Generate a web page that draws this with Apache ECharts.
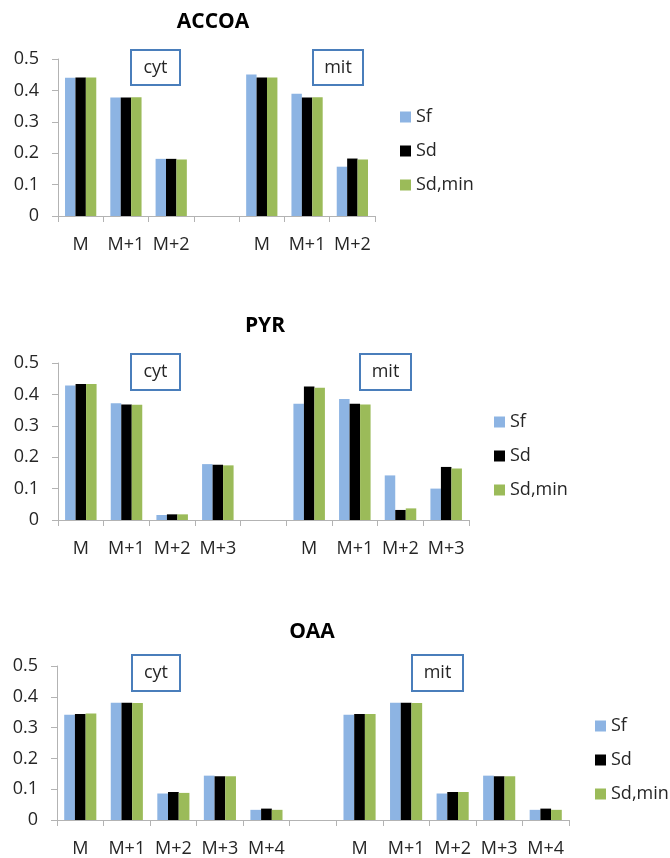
<!DOCTYPE html>
<html>
<head>
<meta charset="utf-8">
<script src="https://cdn.jsdelivr.net/npm/echarts@6/dist/echarts.min.js"></script>
<style>
  html, body { margin: 0; padding: 0; background: #fff; }
  #chart { width: 670px; height: 858px; }
</style>
</head>
<body>
<div id="chart"></div>
<script>
// ---- data ----
const seriesNames = ['Sf', 'Sd', 'Sd,min'];
const yTicks = [0, 0.1, 0.2, 0.3, 0.4, 0.5];

const accoaCats = ['M', 'M+1', 'M+2', '', 'M', 'M+1', 'M+2'];
const accoaSf    = [0.440, 0.377, 0.182, null, 0.451, 0.389, 0.157];
const accoaSd    = [0.441, 0.377, 0.182, null, 0.441, 0.377, 0.183];
const accoaSdMin = [0.441, 0.378, 0.180, null, 0.441, 0.378, 0.180];

const pyrCats = ['M', 'M+1', 'M+2', 'M+3', '', 'M', 'M+1', 'M+2', 'M+3'];
const pyrSf    = [0.428, 0.372, 0.016, 0.178, null, 0.370, 0.385, 0.142, 0.100];
const pyrSd    = [0.433, 0.368, 0.018, 0.176, null, 0.425, 0.370, 0.032, 0.169];
const pyrSdMin = [0.433, 0.367, 0.018, 0.174, null, 0.421, 0.368, 0.037, 0.164];

const oaaCats = ['M', 'M+1', 'M+2', 'M+3', 'M+4', '', 'M', 'M+1', 'M+2', 'M+3', 'M+4'];
const oaaSf    = [0.342, 0.381, 0.086, 0.144, 0.033, null, 0.342, 0.381, 0.086, 0.144, 0.033];
const oaaSd    = [0.344, 0.381, 0.091, 0.142, 0.037, null, 0.344, 0.381, 0.091, 0.142, 0.037];
const oaaSdMin = [0.346, 0.380, 0.088, 0.142, 0.033, null, 0.344, 0.380, 0.091, 0.142, 0.033];

const panelTitles = ['ACCOA', 'PYR', 'OAA'];
const compartments = ['cyt', 'mit'];

// ---- styles ----
const FONT = '"Open Sans", "Noto Sans", sans-serif';
const colors = ['#8db4e3', '#000000', '#9bbb59'];
const axisColor = '#b3b3b3';
const textColor = '#262626';
const boxColor = '#4a7ebb';

const panels = [
  { cats: accoaCats, data: [accoaSf, accoaSd, accoaSdMin], grid: { left: 58, top: 59, width: 317, height: 157 },
    title: { left: 213, top: 12 }, legend: { left: 400, top: 107 },
    boxes: [[130, 49, 49, 35], [312, 49, 50, 35]] },
  { cats: pyrCats, data: [pyrSf, pyrSd, pyrSdMin], grid: { left: 58, top: 363, width: 411, height: 157 },
    title: { left: 265, top: 316 }, legend: { left: 494, top: 412 },
    boxes: [[130, 353, 49, 36], [359, 353, 51, 36]] },
  { cats: oaaCats, data: [oaaSf, oaaSd, oaaSdMin], grid: { left: 57, top: 666, width: 512, height: 157 },
    title: { left: 312, top: 622 }, legend: { left: 595, top: 716 },
    boxes: [[131, 654, 48, 36], [411, 654, 51, 36]] }
];

const option = {
  backgroundColor: '#ffffff',
  animation: false,
  color: colors,
  title: [], legend: [], grid: [], xAxis: [], yAxis: [], series: [], graphic: []
};

panels.forEach((p, i) => {
  option.title.push({
    text: panelTitles[i], left: p.title.left, top: p.title.top, textAlign: 'center', padding: 0,
    textStyle: { fontFamily: FONT, fontSize: 21, fontWeight: 'bold', color: '#000' }
  });
  option.legend.push({
    data: seriesNames, orient: 'vertical', left: p.legend.left, top: p.legend.top, padding: 0,
    itemWidth: 11, itemHeight: 11, itemGap: 14, icon: 'rect',
    textStyle: { fontFamily: FONT, fontSize: 18, color: textColor, lineHeight: 20, padding: [0, 0, 0, 0] }
  });
  option.grid.push(Object.assign({ containLabel: false }, p.grid));
  option.xAxis.push({
    type: 'category', gridIndex: i, data: p.cats, boundaryGap: true,
    axisLine: { show: true, lineStyle: { color: axisColor, width: 1 } },
    axisTick: { show: true, length: 6, lineStyle: { color: axisColor } },
    axisLabel: { fontFamily: FONT, fontSize: 18, color: textColor, margin: 20, interval: 0 },
    splitLine: { show: false }
  });
  option.yAxis.push({
    type: 'value', gridIndex: i, min: yTicks[0], max: yTicks[yTicks.length - 1], interval: 0.1,
    axisLine: { show: true, lineStyle: { color: axisColor, width: 1 } },
    axisTick: { show: true, length: 6, inside: false, lineStyle: { color: axisColor } },
    axisLabel: { fontFamily: FONT, fontSize: 18, color: textColor, margin: 19 },
    splitLine: { show: false }
  });
  seriesNames.forEach((name, k) => {
    option.series.push({
      name: name, type: 'bar', xAxisIndex: i, yAxisIndex: i, data: p.data[k],
      barGap: '0%', barCategoryGap: '31%',
      itemStyle: { color: colors[k] }
    });
  });
  p.boxes.forEach((b, j) => {
    option.graphic.push({
      type: 'group', left: b[0], top: b[1],
      children: [
        { type: 'rect', shape: { x: 0, y: 0, width: b[2], height: b[3] },
          style: { fill: '#ffffff', stroke: boxColor, lineWidth: 2 } },
        { type: 'text', x: b[2] / 2, y: b[3] / 2,
          style: { text: compartments[j], fontFamily: FONT, fontSize: 18, fill: textColor,
                   textAlign: 'center', textVerticalAlign: 'middle' } }
      ]
    });
  });
});

const chart = echarts.init(document.getElementById('chart'), null, { renderer: 'canvas' });
chart.setOption(option);
</script>
</body>
</html>
